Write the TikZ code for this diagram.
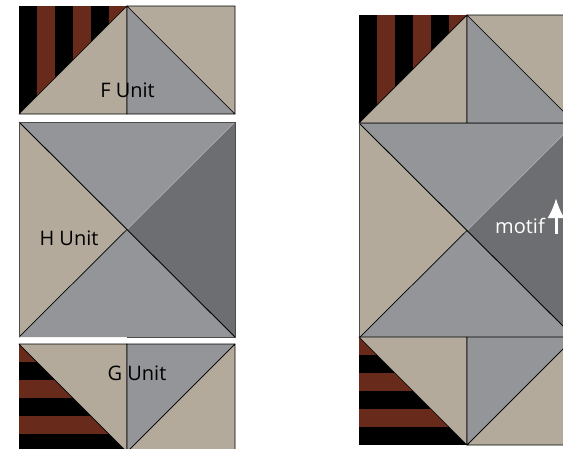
\documentclass[tikz,border=0pt]{standalone}
\usepackage{fontspec}
\setmainfont{Open Sans}
\usetikzlibrary{arrows.meta}
\definecolor{quilttan}{HTML}{B3AA9B}
\definecolor{quiltgrey}{HTML}{939598}
\definecolor{quiltdark}{HTML}{6D6E71}
\definecolor{quiltbrown}{HTML}{682A1A}
\tikzset{patch/.style={draw=black,line width=.7pt,line join=round}}
\tikzset{seam/.style={draw=black,line width=.9pt}}
\tikzset{label/.style={font=\fontsize{20}{20}\selectfont,inner sep=0pt,anchor=base}}

% half square units, 108 wide each side
\newcommand{\funit}[2]{
  \begin{scope}[shift={(#1,#2)}]
    \fill[black] (0,0) rectangle (108,108);
    \begin{scope}
      \clip (0,0)--(108,0)--(0,108)--cycle;
      \foreach \s in {18,54,90}
        \fill[quiltbrown] (\s,0) rectangle (\s+18,108);
    \end{scope}
    \draw[patch,fill=quilttan] (0,108)--(108,0)--(108,108)--cycle;
    \draw[patch,fill=quiltgrey] (108,0)--(216,108)--(108,108)--cycle;
    \draw[patch,fill=quilttan] (108,0)--(216,0)--(216,108)--cycle;
  \end{scope}
}
\newcommand{\gunit}[2]{
  \begin{scope}[shift={(#1,#2)}]
    \fill[black] (0,0) rectangle (108,108);
    \begin{scope}
      \clip (0,0)--(108,108)--(0,108)--cycle;
      \foreach \s in {0,36,72}
        \fill[quiltbrown] (0,\s) rectangle (108,\s+18);
    \end{scope}
    \draw[patch,fill=quilttan] (0,0)--(108,0)--(108,108)--cycle;
    \draw[patch,fill=quiltgrey] (108,0)--(216,0)--(108,108)--cycle;
    \draw[patch,fill=quilttan] (216,0)--(216,108)--(108,108)--cycle;
  \end{scope}
}
\newcommand{\hunit}[2]{
  \begin{scope}[shift={(#1,#2)}]
    \fill[quilttan] (0,0)--(108,107.5)--(0,215)--cycle;
    \fill[quiltdark] (216,0)--(108,107.5)--(216,215)--cycle;
    \fill[quiltgrey] (0,0)--(216,0)--(108,107.5)--cycle;
    \fill[quiltgrey] (0,215)--(216,215)--(108,107.5)--cycle;
    \draw[quiltgrey!75!white,line width=.5pt] (216,0)--(108,107.5);
    \draw[seam] (0,0)--(216,215);
    \draw[patch] (0,215)--(108,107.5);
    \draw[black!70,line width=.9pt] (0,215)--(0,0)--(216,0)--(216,215)--(108,215);
  \end{scope}
}

\begin{document}
\begin{tikzpicture}[x=1pt,y=-1pt]
  \useasboundingbox (0,0) rectangle (563,448);
  \clip (0,0) rectangle (563,448);

  % left column, units apart
  \funit{19}{6}
  \hunit{19}{122}
  \gunit{19}{344}
  \node[label] (funitlabel) at (127.5,97) {F Unit};
  \node[label] (hunitlabel) at (69,245) {H Unit};
  \node[label] (gunitlabel) at (137,380) {G Unit};

  % right column, units joined
  \funit{359}{15}
  \hunit{359}{123}
  \gunit{359}{337}
  \node[label,text=white] (motiflabel) at (520,233) {motif};
  \coordinate (motiftail) at (556,234);
  \coordinate (motiftip) at (556,198);
  \draw[white,line width=3pt,-{Latex[length=20pt,width=17pt]}] (motiftail)--(motiftip);
\end{tikzpicture}
\end{document}
